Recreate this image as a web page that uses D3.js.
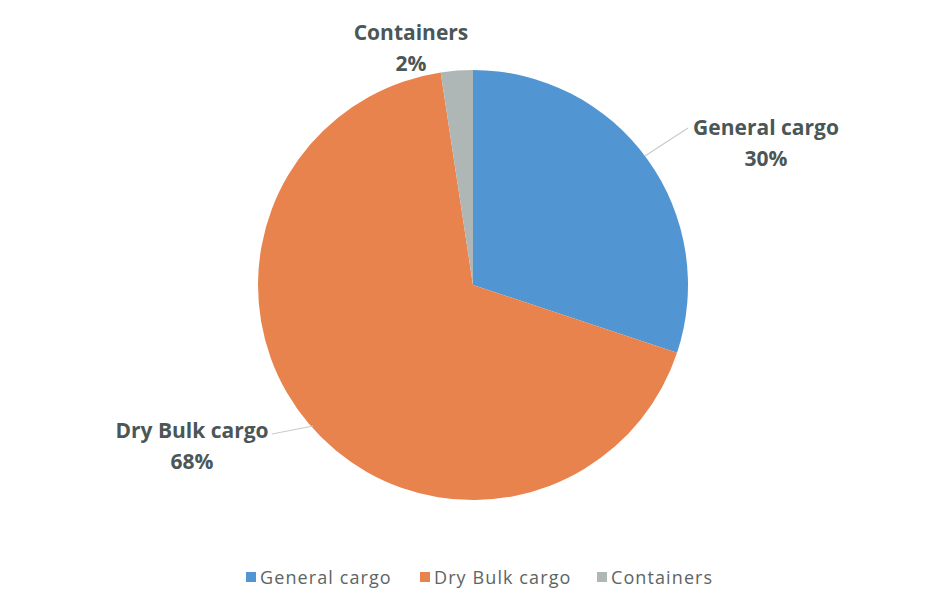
<!DOCTYPE html>
<html>
<head>
<meta charset="utf-8">
<script src="https://cdn.jsdelivr.net/npm/d3@7"></script>
<style>
  body { margin: 0; background: #fff; }
  text { font-family: "Open Sans", "Liberation Sans", sans-serif; }
</style>
</head>
<body>
<svg id="chart" width="930" height="606"></svg>
<script>
// data
var categories = ["General cargo", "Dry Bulk cargo", "Containers"];
var shares = [30.1, 67.5, 2.4];
var colors = ["#5196d3", "#e9834e", "#aeb6b6"];

var svg = d3.select("#chart");
var cx = 473, cy = 285, r = 215;

var data = categories.map(function(c, i) { return { name: c, value: shares[i], color: colors[i] }; });

var pie = d3.pie().sort(null).value(function(d) { return d.value; });
var arc = d3.arc().innerRadius(0).outerRadius(r);
var arcs = pie(data);

var g = svg.append("g").attr("transform", "translate(" + cx + "," + cy + ")");

g.selectAll("path.slice")
    .data(arcs)
  .enter().append("path")
    .attr("class", "slice")
    .attr("d", arc)
    .attr("fill", function(d) { return d.data.color; });

// labels (positions like the excel chart)
var labelPos = [
  { x: 766, y: 135, line: [[688, 128], [645, 156]] },
  { x: 192, y: 438, line: [[272, 434], [313, 426]] },
  { x: 411, y: 40, line: null }
];

var lab = svg.append("g");
arcs.forEach(function(d, i) {
  var p = labelPos[i];
  if (p.line) {
    lab.append("path")
      .attr("d", d3.line()(p.line))
      .attr("stroke", "#c8cccc")
      .attr("stroke-width", 1.2)
      .attr("fill", "none");
  }
  var t = lab.append("text")
    .attr("x", p.x)
    .attr("y", p.y)
    .attr("text-anchor", "middle")
    .attr("fill", "#4b5757")
    .attr("font-weight", "bold")
    .attr("font-size", 21);
  t.append("tspan").attr("x", p.x).text(d.data.name);
  t.append("tspan").attr("x", p.x).attr("dy", 31)
    .text(Math.round(d.data.value) + "%");
});

// legend
var legendX = [246, 420, 597];
var leg = svg.append("g");
data.forEach(function(d, i) {
  var gi = leg.append("g").attr("transform", "translate(" + legendX[i] + ",578)");
  gi.append("rect").attr("x", 0).attr("y", -6).attr("width", 10).attr("height", 10).attr("fill", d.color);
  gi.append("text").attr("x", 14).attr("y", 6)
    .attr("fill", "#5d6464")
    .attr("font-size", 18)
    .attr("letter-spacing", 1.1)
    .text(d.name);
});
</script>
</body>
</html>
